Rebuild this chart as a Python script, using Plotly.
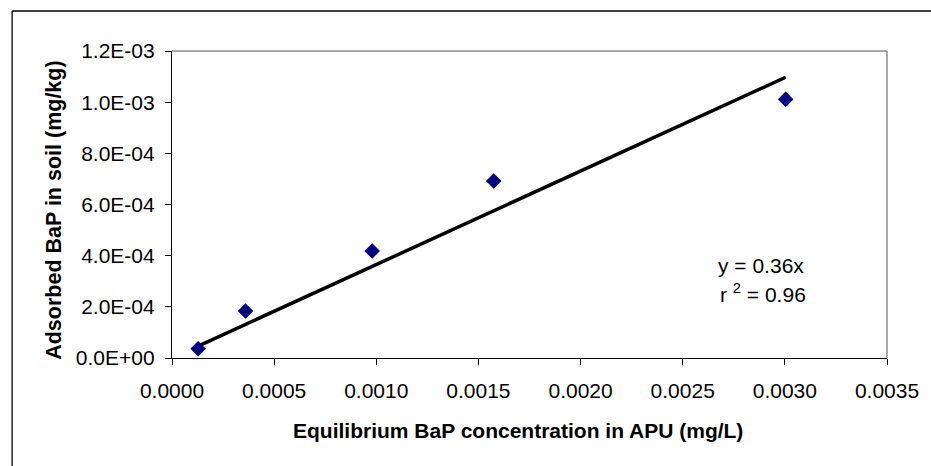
import plotly.graph_objects as go
import numpy as np

# Data
conc_x = [0.000128, 0.00036, 0.00098, 0.001575, 0.003004]
adsorbed_y = [0.000036, 0.000184, 0.000418, 0.000692, 0.001011]

x_tick_vals = [0, 0.0005, 0.0010, 0.0015, 0.0020, 0.0025, 0.0030, 0.0035]
x_tick_text = ["0.0000", "0.0005", "0.0010", "0.0015", "0.0020", "0.0025", "0.0030", "0.0035"]
y_tick_vals = [0, 0.0002, 0.0004, 0.0006, 0.0008, 0.0010, 0.0012]
y_tick_text = ["0.0E+00", "2.0E-04", "4.0E-04", "6.0E-04", "8.0E-04", "1.0E-03", "1.2E-03"]

# Linear trendline through origin (least squares)
xa = np.array(conc_x)
ya = np.array(adsorbed_y)
slope = float((xa * ya).sum() / (xa * xa).sum())
trend_x = [xa.min(), xa.max()]
trend_y = [slope * v for v in trend_x]

W, H = 931, 466
L, R, T, B = 172, 892, 51, 358

def px(x):
    return (x - L) / (R - L)

def py(y):
    return (B - y) / (B - T)

fig = go.Figure()
fig.add_trace(go.Scatter(x=trend_x, y=trend_y, mode="lines",
                         line=dict(color="black", width=3.5), showlegend=False,
                         hoverinfo="skip"))
fig.add_trace(go.Scatter(x=conc_x, y=adsorbed_y, mode="markers",
                         marker=dict(symbol="diamond", size=12, color="#000080"),
                         showlegend=False))

font = "Liberation Sans, Arial, sans-serif"

fig.update_layout(
    width=W, height=H,
    margin=dict(l=L, r=W - R, t=T, b=H - B),
    paper_bgcolor="white", plot_bgcolor="white",
    font=dict(family=font, size=21, color="black"),
    xaxis=dict(range=[0, 0.0035], tickvals=x_tick_vals, ticktext=x_tick_text,
               showgrid=False, zeroline=False, showline=True, linecolor="black",
               linewidth=1.2, ticks="outside", ticklen=6, tickcolor="black",
               tickwidth=1, ticklabelstandoff=8),
    yaxis=dict(range=[0, 0.0012], tickvals=y_tick_vals, ticktext=y_tick_text,
               showgrid=False, zeroline=False, showline=True, linecolor="black",
               linewidth=1.2, ticks="outside", ticklen=6, tickcolor="black",
               tickwidth=1, ticklabelstandoff=6),
    shapes=[
        # plot area top and right border (gray)
        dict(type="line", xref="paper", yref="paper", x0=0, x1=1, y0=1, y1=1,
             line=dict(color="#8c8c8c", width=1.5)),
        dict(type="line", xref="paper", yref="paper", x0=1, x1=1, y0=0, y1=1,
             line=dict(color="#8c8c8c", width=1.5)),
        # outer chart border
        dict(type="line", xref="paper", yref="paper", x0=px(11), x1=px(940),
             y0=py(11), y1=py(11), line=dict(color="black", width=1.3)),
        dict(type="line", xref="paper", yref="paper", x0=px(11), x1=px(11),
             y0=py(11), y1=py(480), line=dict(color="black", width=1.3)),
    ],
    annotations=[
        dict(text="<b>Equilibrium BaP concentration in APU (mg/L)</b>",
             xref="paper", yref="paper", x=px(520), y=py(430),
             showarrow=False, xanchor="center", yanchor="middle",
             font=dict(size=21)),
        dict(text="<b>Adsorbed BaP in soil (mg/kg)</b>",
             xref="paper", yref="paper", x=px(53), y=py(210),
             showarrow=False, xanchor="center", yanchor="middle", textangle=-90,
             font=dict(size=21.5)),
        dict(text="y = 0.36x", xref="paper", yref="paper", x=px(765), y=py(265),
             showarrow=False, xanchor="center", yanchor="middle", font=dict(size=21)),
        dict(text="r <sup>2</sup> = 0.96", xref="paper", yref="paper", x=px(767), y=py(293),
             showarrow=False, xanchor="center", yanchor="middle", font=dict(size=21)),
    ],
)

fig.write_html("out.html")
